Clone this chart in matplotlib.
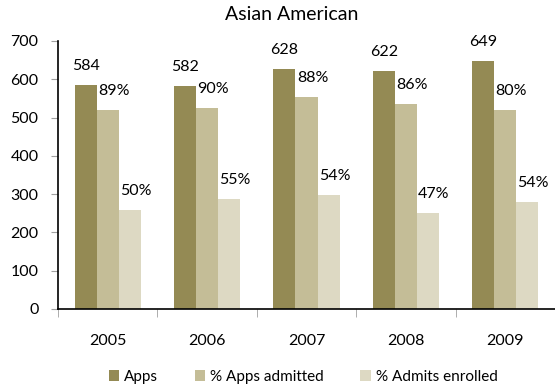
import matplotlib
matplotlib.use("Agg")
import matplotlib.pyplot as plt
import numpy as np

years = ["2005", "2006", "2007", "2008", "2009"]
apps = [584, 582, 628, 622, 649]
pct_admitted = [89, 90, 88, 86, 80]
pct_enrolled = [50, 55, 54, 47, 54]

series_names = ["Apps", "% Apps admitted", "% Admits enrolled"]
colors = ["#948A54", "#C4BD97", "#DDD9C3"]

admitted = [a * p / 100 for a, p in zip(apps, pct_admitted)]
enrolled = [d * p / 100 for d, p in zip(admitted, pct_enrolled)]

plt.rcParams["font.family"] = ["Lato", "DejaVu Sans"]

fig = plt.figure(figsize=(5.55, 3.89), dpi=100)
ax = fig.add_axes([58 / 555, 1 - 309 / 389, 497 / 555, (309 - 41) / 389])

x = np.arange(len(years))
w = 0.222
heights = [apps, admitted, enrolled]
labels = [[str(v) for v in apps],
          [f"{p}%" for p in pct_admitted],
          [f"{p}%" for p in pct_enrolled]]
dx_px = [0, 6, 6]
for i, (h, c, name) in enumerate(zip(heights, colors, series_names)):
    pos = x + (i - 1) * w
    ax.bar(pos, h, width=w, color=c, label=name, zorder=2)
    for xp, hv, lab in zip(pos, h, labels[i]):
        ax.annotate(lab, (xp, hv), xytext=(dx_px[i], 19), textcoords="offset pixels",
                    ha="center", va="center", fontsize=11.5, color="#000000")

ax.set_xlim(-0.5, len(years) - 0.5)
ax.set_ylim(0, 700)
ax.set_yticks(range(0, 701, 100))
ax.tick_params(axis="y", length=5, color="#A0A0A0", pad=9, labelsize=11.5)
ax.set_xticks(x)
ax.set_xticklabels(years)
ax.tick_params(axis="x", length=0, pad=18, labelsize=11.5)
ax.set_xticks(np.arange(-0.5, len(years) + 0.5, 1), minor=True)
ax.tick_params(axis="x", which="minor", length=6, color="#A0A0A0")

for s in ["top", "right"]:
    ax.spines[s].set_visible(False)
for s in ["left", "bottom"]:
    ax.spines[s].set_color("#000000")
    ax.spines[s].set_linewidth(1.2)

fig.text(292 / 555, 1 - 14 / 389, "Asian American", ha="center", va="center", fontsize=14)

fig.legend(loc="center", bbox_to_anchor=(303 / 555, 1 - 377 / 389), ncol=3, frameon=False,
           fontsize=11, handlelength=0.7, handleheight=0.7, handletextpad=0.3,
           columnspacing=2.4)

fig.savefig("out.png", dpi=100)
